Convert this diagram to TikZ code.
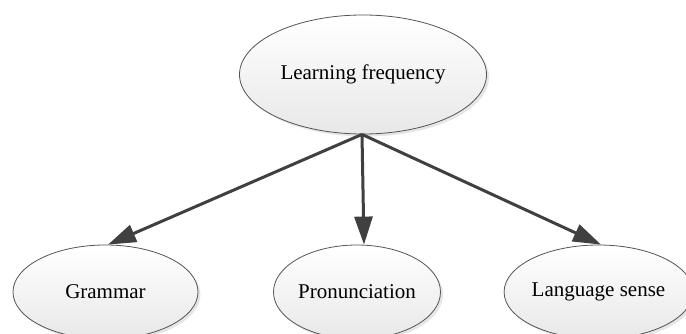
\documentclass[tikz,border=0pt]{standalone}
\usepackage{fontspec}
\setmainfont{Liberation Serif}
\usetikzlibrary{shapes.geometric,arrows.meta,shadows,calc}
\definecolor{arrowgray}{HTML}{404040}
\definecolor{edgegray}{HTML}{555555}
\definecolor{fillbottom}{HTML}{E8E8E8}
\tikzset{
  bubble/.style={ellipse, draw=edgegray, line width=0.8pt, inner sep=0pt,
    top color=white, bottom color=fillbottom,
    drop shadow={opacity=0.2, shadow xshift=2.5pt, shadow yshift=-2.5pt},
    font=\fontsize{21}{25}\selectfont},
  link/.style={draw=arrowgray, line width=3pt,
    -{Triangle[length=28pt,width=18pt]}}
}
\begin{document}
\begin{tikzpicture}[x=1pt,y=1pt]
\useasboundingbox (0,0) rectangle (686,-334);
\begin{scope}
\clip (0,0) rectangle (686,-334);
\node[bubble, minimum width=247pt, minimum height=119pt] (top) at (363,-74.5) {Learning frequency};
\node[bubble, minimum width=185pt, minimum height=94pt] (g) at (105.5,-292) {Grammar};
\node[bubble, minimum width=167pt, minimum height=94pt] (p) at (357,-292) {Pronunciation};
\node[bubble, minimum width=173pt, minimum height=94pt] (l) at (598.5,-292) {Language sense};
\coordinate (src) at ($(top.south)+(-1,0)$);
\coordinate (gt) at ($(g.north)+(2.5,0)$);
\coordinate (pt) at ($(p.north)+(7,0)$);
\coordinate (lt) at ($(l.north)+(2.5,0)$);
\draw[link] (src) -- (gt);
\draw[link] (src) -- (pt);
\draw[link] (src) -- (lt);
\end{scope}
\end{tikzpicture}
\end{document}
